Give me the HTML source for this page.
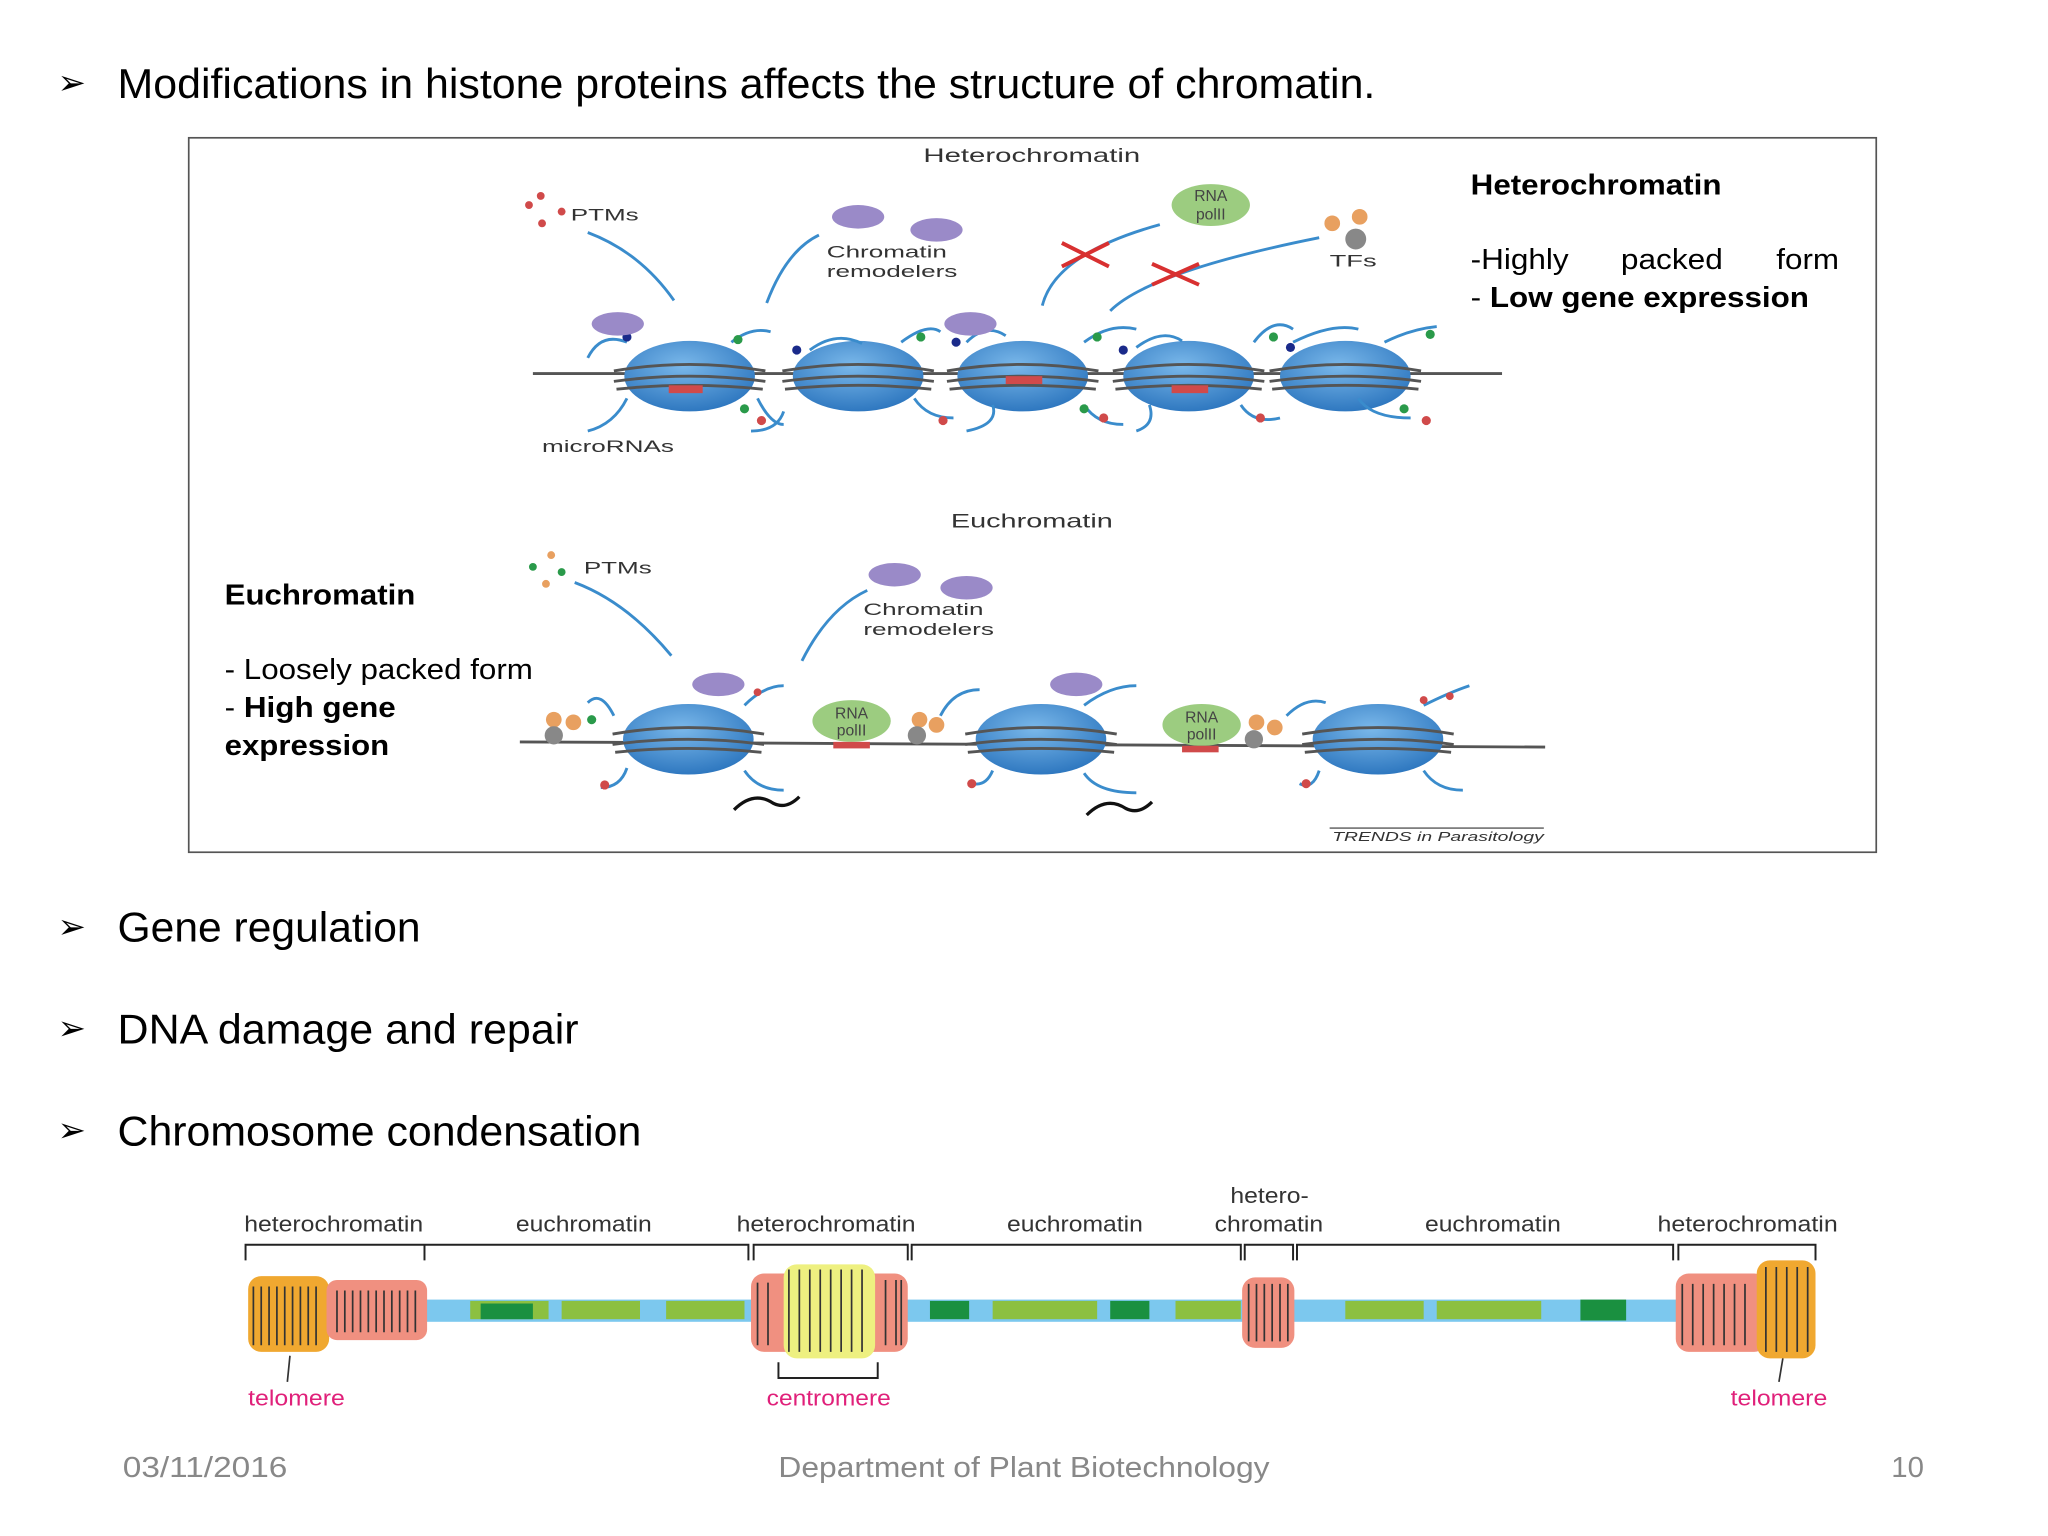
<!DOCTYPE html>
<html><head><meta charset="utf-8"><style>
html,body{margin:0;padding:0;background:#fff;}
svg{display:block;}
text{font-family:"Liberation Sans",sans-serif;}
</style></head><body>
<svg width="2048" height="1536" viewBox="0 0 1568 1176" xmlns="http://www.w3.org/2000/svg">
<defs>
<radialGradient id="nb" cx="45%" cy="35%" r="65%"><stop offset="0" stop-color="#7ab8ea"/><stop offset="1" stop-color="#2f78c0"/></radialGradient>
<g id="nuc">
<ellipse cx="0" cy="0" rx="50" ry="27" fill="url(#nb)"/>
<path d="M-58,-4 Q0,-14 58,-4 M-58,4 Q0,-4 58,4 M-56,10 Q0,4 56,10" stroke="#555" stroke-width="2.2" fill="none"/>
</g>
</defs>
<text x="44" y="72" font-size="26">➢</text>
<text x="90" y="75" font-size="32" textLength="963" lengthAdjust="spacingAndGlyphs">Modifications in histone proteins affects the structure of chromatin.</text>
<rect x="144.5" y="105.5" width="1292" height="547" fill="#fff" stroke="#555" stroke-width="1.3"/>
<text x="707" y="124" font-size="15" fill="#333" textLength="166" lengthAdjust="spacingAndGlyphs">Heterochromatin</text>
<text x="728" y="404" font-size="15" fill="#333" textLength="124" lengthAdjust="spacingAndGlyphs">Euchromatin</text>
<!-- heterochromatin row -->
<path d="M408,286 L1150,286" stroke="#555" stroke-width="2.2" fill="none"/>
<use href="#nuc" x="528" y="288"/><use href="#nuc" x="657" y="288"/><use href="#nuc" x="783" y="288"/><use href="#nuc" x="910" y="288"/><use href="#nuc" x="1030" y="288"/>
<rect x="512" y="295" width="26" height="6" fill="#d04a4a"/><rect x="770" y="288" width="28" height="6" fill="#d04a4a"/><rect x="897" y="295" width="28" height="6" fill="#d04a4a"/>
<g stroke="#3a8ccc" stroke-width="2.2" fill="none">
<path d="M450,274 q10,-20 30,-12 M560,262 q15,-12 30,-8 M620,268 q20,-15 40,-5 M690,262 q20,-15 30,-8 M740,262 q15,-15 30,-5 M830,262 q20,-15 40,-10 M870,266 q20,-15 35,-5 M960,262 q15,-20 30,-10 M990,262 q30,-15 50,-10 M1060,262 q20,-10 40,-12"/>
<path d="M480,305 q-10,20 -30,25 M580,305 q10,20 20,20 M600,315 q-5,15 -25,15 M700,305 q10,15 30,15 M760,310 q5,15 -20,20 M830,310 q10,15 30,15 M880,310 q5,15 -10,20 M950,310 q10,15 30,10 M1040,305 q10,15 40,15"/>
<path d="M450,178 q40,15 66,52 M587,232 q15,-40 40,-52 M798,234 q10,-40 90,-62 M850,238 q30,-30 160,-56"/>
</g>
<g fill="#2a9a4a"><circle cx="565" cy="260" r="3.5"/><circle cx="705" cy="258" r="3.5"/><circle cx="840" cy="258" r="3.5"/><circle cx="975" cy="258" r="3.5"/><circle cx="1095" cy="256" r="3.5"/><circle cx="570" cy="313" r="3.5"/><circle cx="830" cy="313" r="3.5"/><circle cx="1075" cy="313" r="3.5"/></g>
<g fill="#d04a4a"><circle cx="583" cy="322" r="3.5"/><circle cx="722" cy="322" r="3.5"/><circle cx="845" cy="320" r="3.5"/><circle cx="965" cy="320" r="3.5"/><circle cx="1092" cy="322" r="3.5"/><circle cx="405" cy="157" r="3"/><circle cx="414" cy="150" r="3"/><circle cx="430" cy="162" r="3"/><circle cx="415" cy="171" r="3"/></g>
<g fill="#1a2a8a"><circle cx="480" cy="258" r="3.5"/><circle cx="610" cy="268" r="3.5"/><circle cx="732" cy="262" r="3.5"/><circle cx="860" cy="268" r="3.5"/><circle cx="988" cy="266" r="3.5"/></g>
<g fill="#9a8ac8"><ellipse cx="473" cy="248" rx="20" ry="9"/><ellipse cx="657" cy="166" rx="20" ry="9"/><ellipse cx="717" cy="176" rx="20" ry="9"/><ellipse cx="743" cy="248" rx="20" ry="9"/></g>
<ellipse cx="927" cy="157" rx="30" ry="16" fill="#9ccc80"/>
<text x="927" y="154" font-size="12" fill="#444" text-anchor="middle">RNA</text><text x="927" y="168" font-size="12" fill="#444" text-anchor="middle">polII</text>
<circle cx="1020" cy="171" r="6" fill="#e8a060"/><circle cx="1041" cy="166" r="6" fill="#e8a060"/><circle cx="1038" cy="183" r="8" fill="#888"/>
<path d="M813,186 l36,18 M813,204 l36,-18 M882,202 l36,16 M882,218 l36,-16" stroke="#d83030" stroke-width="3"/>
<text x="437" y="169" font-size="13" fill="#333" textLength="52" lengthAdjust="spacingAndGlyphs">PTMs</text>
<text x="633" y="197" font-size="13" fill="#333" textLength="92" lengthAdjust="spacingAndGlyphs">Chromatin</text><text x="633" y="212" font-size="13" fill="#333" textLength="100" lengthAdjust="spacingAndGlyphs">remodelers</text>
<text x="1018" y="204" font-size="13" fill="#333" textLength="36" lengthAdjust="spacingAndGlyphs">TFs</text>
<text x="415" y="346" font-size="13" fill="#333" textLength="101" lengthAdjust="spacingAndGlyphs">microRNAs</text>
<!-- euchromatin row -->
<path d="M398,568 L1183,572" stroke="#555" stroke-width="2.2" fill="none"/>
<use href="#nuc" x="527" y="566"/><use href="#nuc" x="797" y="566"/><use href="#nuc" x="1055" y="566"/>
<g stroke="#3a8ccc" stroke-width="2.2" fill="none">
<path d="M440,446 q40,15 74,56 M614,506 q20,-40 50,-54 M470,548 q-10,-20 -20,-10 M570,540 q15,-15 30,-15 M720,548 q10,-20 30,-20 M830,540 q20,-15 40,-15 M985,548 q15,-15 30,-10 M1090,540 q20,-10 35,-15 M480,588 q-5,15 -20,15 M570,590 q10,15 30,15 M760,590 q-5,12 -15,10 M830,592 q10,15 40,15 M1010,590 q-5,15 -15,10 M1090,590 q10,15 30,15"/>
</g>
<path d="M562,620 q15,-15 30,-5 q10,5 20,-5 M832,624 q15,-15 30,-5 q10,5 20,-5" stroke="#111" stroke-width="2.5" fill="none"/>
<g fill="#9a8ac8"><ellipse cx="685" cy="440" rx="20" ry="9"/><ellipse cx="740" cy="450" rx="20" ry="9"/><ellipse cx="550" cy="524" rx="20" ry="9"/><ellipse cx="824" cy="524" rx="20" ry="9"/></g>
<ellipse cx="652" cy="552" rx="30" ry="16" fill="#9ccc80"/><ellipse cx="920" cy="555" rx="30" ry="16" fill="#9ccc80"/>
<rect x="638" y="568" width="28" height="5" fill="#d04a4a"/><rect x="905" y="571" width="28" height="5" fill="#d04a4a"/>
<text x="652" y="550" font-size="12" fill="#444" text-anchor="middle">RNA</text><text x="652" y="563" font-size="12" fill="#444" text-anchor="middle">polII</text>
<text x="920" y="553" font-size="12" fill="#444" text-anchor="middle">RNA</text><text x="920" y="566" font-size="12" fill="#444" text-anchor="middle">polII</text>
<g fill="#e8a060"><circle cx="424" cy="551" r="6"/><circle cx="439" cy="553" r="6"/><circle cx="704" cy="551" r="6"/><circle cx="717" cy="555" r="6"/><circle cx="962" cy="553" r="6"/><circle cx="976" cy="557" r="6"/><circle cx="422" cy="425" r="3"/><circle cx="418" cy="447" r="3"/></g>
<g fill="#888"><circle cx="424" cy="563" r="7"/><circle cx="702" cy="563" r="7"/><circle cx="960" cy="566" r="7"/></g>
<g fill="#2a9a4a"><circle cx="408" cy="434" r="3"/><circle cx="430" cy="438" r="3"/><circle cx="453" cy="551" r="3.5"/></g>
<g fill="#d04a4a"><circle cx="463" cy="601" r="3.5"/><circle cx="744" cy="600" r="3.5"/><circle cx="1000" cy="600" r="3.5"/><circle cx="580" cy="530" r="3"/><circle cx="1090" cy="536" r="3"/><circle cx="1110" cy="533" r="3"/></g>
<text x="447" y="439" font-size="13" fill="#333" textLength="52" lengthAdjust="spacingAndGlyphs">PTMs</text>
<text x="661" y="471" font-size="13" fill="#333" textLength="92" lengthAdjust="spacingAndGlyphs">Chromatin</text><text x="661" y="486" font-size="13" fill="#333" textLength="100" lengthAdjust="spacingAndGlyphs">remodelers</text>
<text x="1020" y="644" font-size="10" fill="#333" font-style="italic" textLength="162" lengthAdjust="spacingAndGlyphs">TRENDS in Parasitology</text>
<line x1="1018" y1="634" x2="1182" y2="634" stroke="#333" stroke-width="0.8"/>
<!-- side text -->
<text x="1126" y="149" font-size="22" font-weight="bold" textLength="192" lengthAdjust="spacingAndGlyphs">Heterochromatin</text>
<text x="1126" y="206" font-size="22" textLength="75" lengthAdjust="spacingAndGlyphs">-Highly</text><text x="1241" y="206" font-size="22" textLength="78" lengthAdjust="spacingAndGlyphs">packed</text><text x="1360" y="206" font-size="22" textLength="48" lengthAdjust="spacingAndGlyphs">form</text>
<text x="1126" y="235" font-size="22" textLength="259" lengthAdjust="spacingAndGlyphs">- <tspan font-weight="bold">Low gene expression</tspan></text>
<text x="172" y="463" font-size="22" font-weight="bold" textLength="146" lengthAdjust="spacingAndGlyphs">Euchromatin</text>
<text x="172" y="520" font-size="22" textLength="236" lengthAdjust="spacingAndGlyphs">- Loosely packed form</text>
<text x="172" y="549" font-size="22" textLength="131" lengthAdjust="spacingAndGlyphs">- <tspan font-weight="bold">High gene</tspan></text>
<text x="172" y="578" font-size="22" font-weight="bold" textLength="126" lengthAdjust="spacingAndGlyphs">expression</text>
<!-- bullets -->
<text x="44" y="718" font-size="26">➢</text><text x="90" y="721" font-size="32" textLength="232" lengthAdjust="spacingAndGlyphs">Gene regulation</text>
<text x="44" y="796" font-size="26">➢</text><text x="90" y="799" font-size="32" textLength="353" lengthAdjust="spacingAndGlyphs">DNA damage and repair</text>
<text x="44" y="874" font-size="26">➢</text><text x="90" y="877" font-size="32" textLength="401" lengthAdjust="spacingAndGlyphs">Chromosome condensation</text>
<!-- chromosome -->
<g font-size="17" fill="#333">
<text x="187" y="943" textLength="137" lengthAdjust="spacingAndGlyphs">heterochromatin</text><text x="395" y="943" textLength="104" lengthAdjust="spacingAndGlyphs">euchromatin</text><text x="564" y="943" textLength="137" lengthAdjust="spacingAndGlyphs">heterochromatin</text><text x="771" y="943" textLength="104" lengthAdjust="spacingAndGlyphs">euchromatin</text><text x="942" y="921" textLength="60" lengthAdjust="spacingAndGlyphs">hetero-</text><text x="930" y="943" textLength="83" lengthAdjust="spacingAndGlyphs">chromatin</text><text x="1091" y="943" textLength="104" lengthAdjust="spacingAndGlyphs">euchromatin</text><text x="1269" y="943" textLength="138" lengthAdjust="spacingAndGlyphs">heterochromatin</text>
</g>
<path d="M188,965 v-12 h137 v12 M325,953 h248 v12 M577,965 v-12 h118 v12 M698,965 v-12 h252 v12 M953,965 v-12 h37 v12 M993,965 v-12 h288 v12 M1285,965 v-12 h105 v12 M596,1043 v12 h76 v-12" stroke="#222" stroke-width="1.5" fill="none"/>
<rect x="325" y="995" width="960" height="17" fill="#7cc8ee"/>
<g fill="#8cc040"><rect x="360" y="996" width="60" height="14"/><rect x="430" y="996" width="60" height="14"/><rect x="510" y="996" width="60" height="14"/><rect x="760" y="996" width="80" height="14"/><rect x="900" y="996" width="50" height="14"/><rect x="1030" y="996" width="60" height="14"/><rect x="1100" y="996" width="80" height="14"/></g>
<g fill="#1a9040"><rect x="368" y="998" width="40" height="12"/><rect x="712" y="996" width="30" height="14"/><rect x="850" y="996" width="30" height="14"/><rect x="1210" y="995" width="35" height="16"/></g>
<rect x="190" y="977" width="62" height="58" rx="10" fill="#f0a830"/>
<rect x="250" y="980" width="77" height="46" rx="8" fill="#f09080"/>
<rect x="575" y="975" width="120" height="60" rx="10" fill="#f09080"/>
<rect x="600" y="968" width="70" height="72" rx="10" fill="#eef080"/>
<rect x="951" y="978" width="40" height="54" rx="10" fill="#f09080"/>
<rect x="1283" y="975" width="70" height="60" rx="10" fill="#f09080"/>
<rect x="1345" y="965" width="45" height="75" rx="10" fill="#f0a830"/>
<g stroke="#333" stroke-width="1.3" fill="none">
<path d="M194,1030 V985 M200,1030 V985 M206,1030 V985 M212,1030 V985 M218,1030 V985 M224,1030 V985 M230,1030 V985 M236,1030 V985 M242,1030 V985 M258,1020 V988 M264,1020 V988 M270,1020 V988 M276,1020 V988 M282,1020 V988 M288,1020 V988 M294,1020 V988 M300,1020 V988 M306,1020 V988 M312,1020 V988 M318,1020 V988"/>
<path d="M580,1030 V982 M588,1030 V982 M604,1035 V972 M612,1035 V972 M620,1035 V972 M628,1035 V972 M636,1035 V972 M644,1035 V972 M652,1035 V972 M660,1035 V972 M678,1030 V980 M686,1030 V980 M690,1030 V980"/>
<path d="M956,1027 V983 M962,1027 V983 M968,1027 V983 M974,1027 V983 M980,1027 V983 M986,1027 V983"/>
<path d="M1288,1030 V983 M1296,1030 V983 M1304,1030 V983 M1312,1030 V983 M1320,1030 V983 M1328,1030 V983 M1336,1030 V983 M1352,1035 V970 M1360,1035 V970 M1368,1035 V970 M1376,1035 V970 M1384,1035 V970"/>
<path d="M222,1038 L220,1058 M1365,1040 L1362,1058"/>
</g>
<g font-size="17" fill="#e0207a"><text x="190" y="1076" textLength="74" lengthAdjust="spacingAndGlyphs">telomere</text><text x="587" y="1076" textLength="95" lengthAdjust="spacingAndGlyphs">centromere</text><text x="1325" y="1076" textLength="74" lengthAdjust="spacingAndGlyphs">telomere</text></g>
<g font-size="22" fill="#888"><text x="94" y="1131" textLength="126" lengthAdjust="spacingAndGlyphs">03/11/2016</text><text x="596" y="1131" textLength="376" lengthAdjust="spacingAndGlyphs">Department of Plant Biotechnology</text><text x="1448" y="1131" textLength="25" lengthAdjust="spacingAndGlyphs">10</text></g>
</svg>
</body></html>
